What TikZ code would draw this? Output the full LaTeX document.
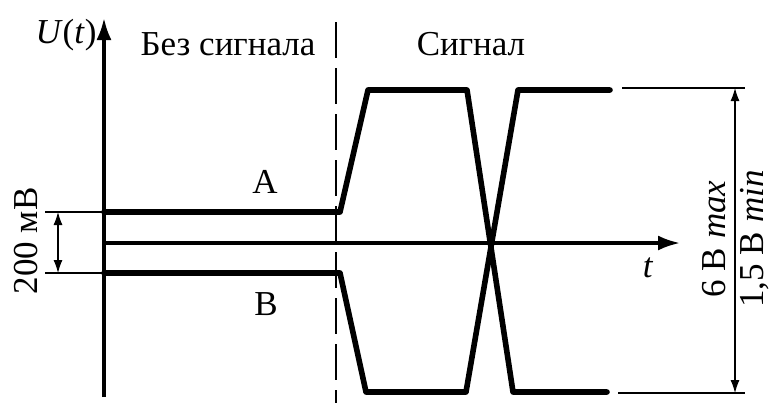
\documentclass[tikz,border=0pt]{standalone}
\usepackage{fontspec}
\setmainfont{Liberation Serif}
\usetikzlibrary{arrows.meta, positioning}

\begin{document}
\begin{tikzpicture}[
    x=0.5pt, y=-0.5pt,
    font=\fontsize{17.5}{20}\selectfont,
    axis/.style={line width=1.6pt, -{Latex[length=11pt,width=7.5pt]}},
    signal/.style={line width=2.8pt, line join=round, line cap=round},
    dimline/.style={line width=0.55pt},
    dimarrow/.style={line width=0.55pt, {Latex[length=6.5pt,width=4.5pt]}-{Latex[length=6.5pt,width=4.5pt]}},
    border/.style={line width=0.8pt, dash pattern=on 18pt off 5pt},
    lbl/.style={inner sep=0pt, anchor=base}
]
    \useasboundingbox (0,0) rectangle (769,403);

    % axes
    \coordinate (ybot) at (104,397);
    \coordinate (ytop) at (104,18);
    \coordinate (xbeg) at (104,243);
    \coordinate (xend) at (680,243);
    \draw[axis] (ybot) -- (ytop);
    \draw[axis] (xbeg) -- (xend);

    % border between the two states
    \coordinate (btop) at (336,22);
    \coordinate (bbot) at (336,403);
    \draw[border] (btop) -- (bbot);

    % line A
    \coordinate (a0) at (104,212);
    \coordinate (a1) at (340,212);
    \coordinate (a2) at (368,90);
    \coordinate (a3) at (467,90);
    \coordinate (a4) at (513,392);
    \coordinate (a5) at (607,392);
    \draw[signal] (a0) -- (a1) -- (a2) -- (a3) -- (a4) -- (a5);

    % line B
    \coordinate (b0) at (104,273);
    \coordinate (b1) at (340,273);
    \coordinate (b2) at (366,392);
    \coordinate (b3) at (466,392);
    \coordinate (b4) at (518,90);
    \coordinate (b5) at (610,90);
    \draw[signal] (b0) -- (b1) -- (b2) -- (b3) -- (b4) -- (b5);

    % 200 mV dimension
    \coordinate (lA) at (45,212);
    \coordinate (lB) at (45,273);
    \coordinate (dA) at (58,212);
    \coordinate (dB) at (58,273);
    \draw[dimline] (lA) -- (a0);
    \draw[dimline] (lB) -- (b0);
    \draw[dimarrow] (dA) -- (dB);

    % output swing dimension
    \coordinate (rt1) at (622,88);
    \coordinate (rt2) at (745,88);
    \coordinate (rb1) at (618,393);
    \coordinate (rb2) at (745,393);
    \coordinate (dt) at (735,88);
    \coordinate (db) at (735,393);
    \draw[dimline] (rt1) -- (rt2);
    \draw[dimline] (rb1) -- (rb2);
    \draw[dimarrow] (dt) -- (db);

    % labels
    \node[lbl] (uaxis) at (66,43) {\textit{U}(\textit{t})};
    \node[lbl] (idle) at (228,55) {Без сигнала};
    \node[lbl] (active) at (471,55) {Сигнал};
    \node[lbl] (lblA) at (265,193) {A};
    \node[lbl] (lblB) at (266,315) {B};
    \node[lbl] (taxis) at (648,277) {\textit{t}};
    \node[lbl, rotate=90] (low) at (37,241) {200 мВ};
    \node[lbl, rotate=90] (vmax) at (725,239) {6 В \textit{max}};
    \node[lbl, rotate=90] (vmin) at (763,239) {1,5 В \textit{min}};
\end{tikzpicture}
\end{document}
